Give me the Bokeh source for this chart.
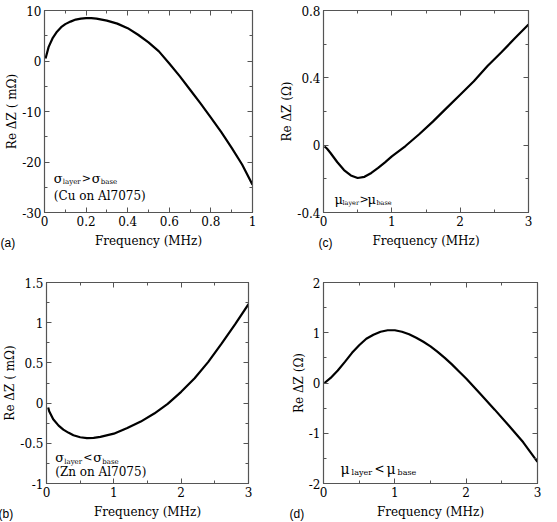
from bokeh.plotting import figure
from bokeh.layouts import column, row
from bokeh.models import FixedTicker, LinearAxis, Label, Range1d, Title
from bokeh.embed import file_html
from bokeh.resources import INLINE

# ---- data ----
a_x = [0.005, 0.02, 0.04, 0.06, 0.08, 0.1, 0.125, 0.15, 0.175, 0.2, 0.225, 0.25, 0.3, 0.35, 0.4,
       0.45, 0.5, 0.55, 0.6, 0.65, 0.7, 0.75, 0.8, 0.85, 0.9, 0.95, 1.0]
a_y = [0.5, 2.8, 4.6, 5.8, 6.7, 7.3, 7.8, 8.2, 8.4, 8.5, 8.5, 8.4, 8.0, 7.4, 6.5,
       5.2, 3.7, 1.9, -0.5, -3.0, -5.7, -8.4, -11.2, -14.1, -17.2, -20.5, -24.5]

c_x = [0.015, 0.05, 0.1, 0.2, 0.3, 0.4, 0.5, 0.6, 0.7, 0.8, 0.9, 1.0, 1.2, 1.4, 1.6, 1.8, 2.0,
       2.2, 2.4, 2.6, 2.8, 3.0]
c_y = [-0.008, -0.02, -0.045, -0.1, -0.148, -0.18, -0.195, -0.188, -0.165, -0.135, -0.102, -0.067,
       -0.005, 0.065, 0.14, 0.22, 0.30, 0.38, 0.47, 0.55, 0.635, 0.717]

b_x = [0.025, 0.04, 0.1, 0.18, 0.25, 0.33, 0.4, 0.5, 0.6, 0.7, 0.8, 1.0, 1.2, 1.4, 1.6, 1.8, 2.0,
       2.2, 2.4, 2.6, 2.8, 3.0]
b_y = [-0.054, -0.1, -0.2, -0.28, -0.33, -0.37, -0.4, -0.425, -0.435, -0.432, -0.42, -0.38, -0.31,
       -0.23, -0.13, -0.01, 0.14, 0.31, 0.51, 0.74, 0.98, 1.23]

d_x = [0.014, 0.1, 0.2, 0.3, 0.4, 0.5, 0.6, 0.7, 0.8, 0.9, 1.0, 1.1, 1.2, 1.3, 1.4, 1.5, 1.6,
       1.7, 1.8, 1.9, 2.0, 2.2, 2.4, 2.6, 2.8, 3.0]
d_y = [0.0, 0.1, 0.25, 0.42, 0.6, 0.75, 0.88, 0.96, 1.02, 1.05, 1.05, 1.02, 0.97, 0.9, 0.82, 0.73,
       0.62, 0.5, 0.37, 0.23, 0.09, -0.22, -0.53, -0.85, -1.18, -1.57]

a_xticks = [0, 0.2, 0.4, 0.6, 0.8, 1]
a_xlabels = ["0", "0.2", "0.4", "0.6", "0.8", "1"]
a_yticks = [10, 0, -10, -20, -30]
a_ylabels = ["10", "0", "-10", "-20", "-30"]

c_xticks = [0, 1, 2, 3]
c_xlabels = ["0", "1", "2", "3"]
c_yticks = [0.8, 0.4, 0, -0.4]
c_ylabels = ["0.8", "0.4", "0", "-0.4"]

b_xticks = [0, 1, 2, 3]
b_xlabels = ["0", "1", "2", "3"]
b_yticks = [1.5, 1, 0.5, 0, -0.5, -1]
b_ylabels = ["1.5", "1", "0.5", "0", "-0.5", "-1"]

d_xticks = [0, 1, 2, 3]
d_xlabels = ["0", "1", "2", "3"]
d_yticks = [2, 1, 0, -1, -2]
d_ylabels = ["2", "1", "0", "-1", "-2"]

SERIF = "DejaVu Serif"
SANS = "Liberation Sans"
AXC = "#555555"


def minor(lo, hi, step):
    n = int(round((hi - lo) / step))
    return [lo + i * step for i in range(n + 1)]


def style_axis(ax, ticks, labels, mticks, show, label_standoff=5):
    ax.ticker = FixedTicker(ticks=ticks, minor_ticks=mticks)
    ax.axis_line_color = AXC
    ax.axis_line_width = 1.2
    ax.major_tick_line_color = AXC
    ax.minor_tick_line_color = AXC
    ax.major_tick_in = 5
    ax.major_tick_out = 0
    ax.minor_tick_in = 3
    ax.minor_tick_out = 0
    if show:
        ax.major_label_overrides = {t: l for t, l in zip(ticks, labels)}
        ax.major_label_text_font = SERIF
        ax.major_label_text_font_size = "12px"
        ax.major_label_text_color = "black"
        ax.major_label_standoff = 3
        ax.axis_label_text_font = SERIF
        ax.axis_label_text_font_size = "12px"
        ax.axis_label_text_font_style = "normal"
        ax.axis_label_text_color = "black"
        ax.axis_label_standoff = label_standoff
    else:
        ax.major_label_overrides = {t: "" for t in ticks}
        ax.major_label_standoff = 0
        ax.axis_label = None


def make_panel(xs, ys, xr, yr, xticks, xlabels, yticks, ylabels, xminor, yminor,
               ylabel, width, height, borders, tag):
    p = figure(width=width, height=height, output_backend="svg", toolbar_location=None,
               x_range=Range1d(*xr), y_range=Range1d(*yr),
               min_border_left=borders[0], min_border_right=borders[1],
               min_border_top=borders[2], min_border_bottom=borders[3])
    p.xgrid.visible = False
    p.ygrid.visible = False
    p.outline_line_color = AXC
    p.background_fill_color = "white"
    p.border_fill_color = "white"
    p.xaxis.axis_label = "Frequency (MHz)"
    p.yaxis.axis_label = ylabel
    style_axis(p.xaxis[0], xticks, xlabels, minor(xr[0], xr[1], xminor), True, 5)
    style_axis(p.yaxis[0], yticks, ylabels, minor(yr[0], yr[1], yminor), True, 0)
    top = LinearAxis()
    right = LinearAxis()
    style_axis(top, xticks, xlabels, minor(xr[0], xr[1], xminor), False)
    style_axis(right, yticks, ylabels, minor(yr[0], yr[1], yminor), False)
    p.add_layout(top, "above")
    p.add_layout(right, "right")
    p.line(xs, ys, line_color="black", line_width=2.2)
    # panel tag "(a)" etc. placed in the bottom border, beside the axis label
    t = Title(text=tag[0], align="left", vertical_align="top", offset=tag[1], standoff=-30,
              text_font=SANS, text_font_size="12px", text_font_style="normal", text_color="black")
    p.add_layout(t, "below")
    return p


def add_text(p, x, y, parts):
    for txt, dx, dy, size in parts:
        p.add_layout(Label(x=x, y=y, x_offset=dx, y_offset=dy, text=txt,
                           text_font=SERIF, text_font_size=size, text_color="black",
                           text_baseline="alphabetic", text_align="left"))


pa = make_panel(a_x, a_y, (0, 1), (-30, 10), a_xticks, a_xlabels, a_yticks, a_ylabels,
                0.1, 5, "Re \u0394Z ( m\u03a9)", 277, 260, (44, 25, 7, 48), ("(a)", -44))
add_text(pa, 0.045, -23.2, [("\u03c3", 0, 0, "13px"), ("layer", 9, -4, "7px"),
                           (">", 28, 0, "11px"), ("\u03c3", 38, 0, "13px"),
                           ("base", 47, -4, "7px"),
                           ("(Cu  on Al7075)", 0, -18, "12px")])

pc = make_panel(c_x, c_y, (0, 3), (-0.4, 0.8), c_xticks, c_xlabels, c_yticks, c_ylabels,
                0.5, 0.2, "Re \u0394Z (\u03a9)", 280, 260, (46, 29, 10, 47), ("(c)", -5))
add_text(pc, 0.16, -0.323, [("\u03bc", 0, 0, "13px"), ("layer", 8, -3, "6.5px"),
                           (">", 25, 0, "11px"), ("\u03bc", 33, 0, "13px"),
                           ("base", 42, -3, "6.5px")])

pb = make_panel(b_x, b_y, (0, 3), (-1, 1.5), b_xticks, b_xlabels, b_yticks, b_ylabels,
                0.5, 0.25, "Re \u0394Z ( m\u03a9)", 277, 262, (44, 29, 22, 39), ("(b)", -48))
add_text(pb, 0.13, -0.677, [("\u03c3", 0, 0, "13px"), ("layer", 9, -4, "7px"),
                           ("<", 28, 0, "11px"), ("\u03c3", 38, 0, "13px"),
                           ("base", 47, -4, "7px"),
                           ("(Zn  on Al7075)", 0, -14, "12px")])

pd_ = make_panel(d_x, d_y, (0, 3), (-2, 2), d_xticks, d_xlabels, d_yticks, d_ylabels,
                 0.5, 0.5, "Re \u0394Z (\u03a9)", 280, 262, (46, 20, 13, 37), ("(d)", -34))
add_text(pd_, 0.24, -1.717, [("\u03bc", 0, 0, "14px"), ("layer", 11, -3, "8px"),
                            ("<", 34, 0, "12px"), ("\u03bc", 46, 0, "14px"),
                            ("base", 57, -3, "8px")])

layout = column(row(pa, pc), row(pb, pd_))
open("out.html", "w").write(file_html(layout, INLINE))
